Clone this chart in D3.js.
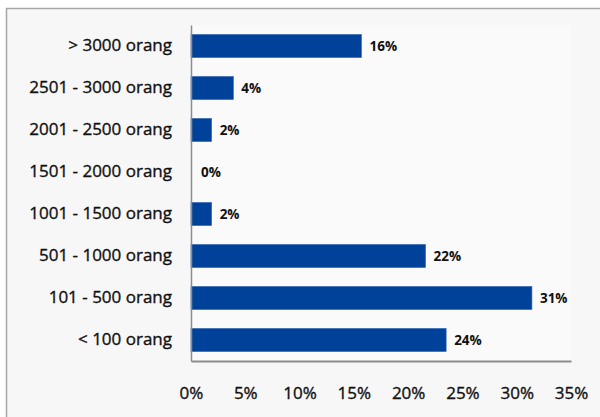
<!DOCTYPE html>
<html><head><meta charset="utf-8">
<script src="https://cdn.jsdelivr.net/npm/d3@7"></script>
<style>
html,body{margin:0;padding:0;background:#ffffff;}
svg{display:block;}
text{font-family:"Open Sans","Lato",sans-serif;}
</style></head>
<body>
<svg id="chart" width="600" height="417"></svg>
<script>
const categories = ["> 3000 orang","2501 - 3000 orang","2001 - 2500 orang","1501 - 2000 orang","1001 - 1500 orang","501 - 1000 orang","101 - 500 orang","< 100 orang"];
const values = [15.7, 3.9, 1.9, 0, 1.9, 21.6, 31.4, 23.5];
const valueLabels = ["16%","4%","2%","0%","2%","22%","31%","24%"];
const xTicks = [0,5,10,15,20,25,30,35];

(function(){
const svg = d3.select("#chart");
const FONT = '"Open Sans","Lato",sans-serif';
// frame
svg.append("rect").attr("x",6.5).attr("y",8.5).attr("width",600).attr("height",420)
  .attr("fill","#f7f7f7").attr("stroke","#a6a6a6").attr("stroke-width",1.5);

const mLeft = 191, mRight = 571, mTop = 25, mBottom = 361;
const x = d3.scaleLinear().domain([0,35]).range([mLeft,mRight]);
const y = d3.scaleBand().domain(categories).range([mTop,mBottom]).paddingInner(0.45).paddingOuter(0.225);

svg.append("rect").attr("x",mLeft).attr("y",mTop).attr("width",mRight-mLeft).attr("height",mBottom-mTop).attr("fill","#fafafa");

svg.append("g").selectAll("rect").data(categories).join("rect")
  .attr("x",x(0)).attr("y",d=>y(d))
  .attr("width",(d,i)=>x(values[i])-x(0)).attr("height",y.bandwidth())
  .attr("fill","#00429a").attr("stroke","#3565b0").attr("stroke-width",0.6);

svg.append("g").selectAll("text").data(categories).join("text")
  .attr("x",(d,i)=>x(values[i])+ (values[i]>0?8:10)).attr("y",d=>y(d)+y.bandwidth()/2)
  .attr("dy","0.36em").attr("font-size",13.5).attr("font-weight","bold").attr("fill","#111")
  .style("font-family",FONT)
  .text((d,i)=>valueLabels[i]);

// y axis
const yAxis = d3.axisLeft(y).tickSize(0).tickPadding(19);
const gy = svg.append("g").attr("transform",`translate(${mLeft},0)`).call(yAxis);
gy.select(".domain").attr("stroke","#8c8c8c").attr("stroke-width",1.5);
gy.selectAll("text").attr("font-size",17).attr("fill","#111").attr("stroke","#111").attr("stroke-width",0.35).style("font-family",FONT);

// x axis
const xAxis = d3.axisBottom(x).tickValues(xTicks).tickSize(0).tickPadding(26).tickFormat(d=>d+"%");
const gx = svg.append("g").attr("transform",`translate(0,${mBottom})`).call(xAxis);
gx.select(".domain").attr("stroke","#8c8c8c").attr("stroke-width",2);
gx.selectAll("text").attr("font-size",17).attr("fill","#111").attr("stroke","#111").attr("stroke-width",0.35).style("font-family",FONT);
})();
</script>
</body></html>
